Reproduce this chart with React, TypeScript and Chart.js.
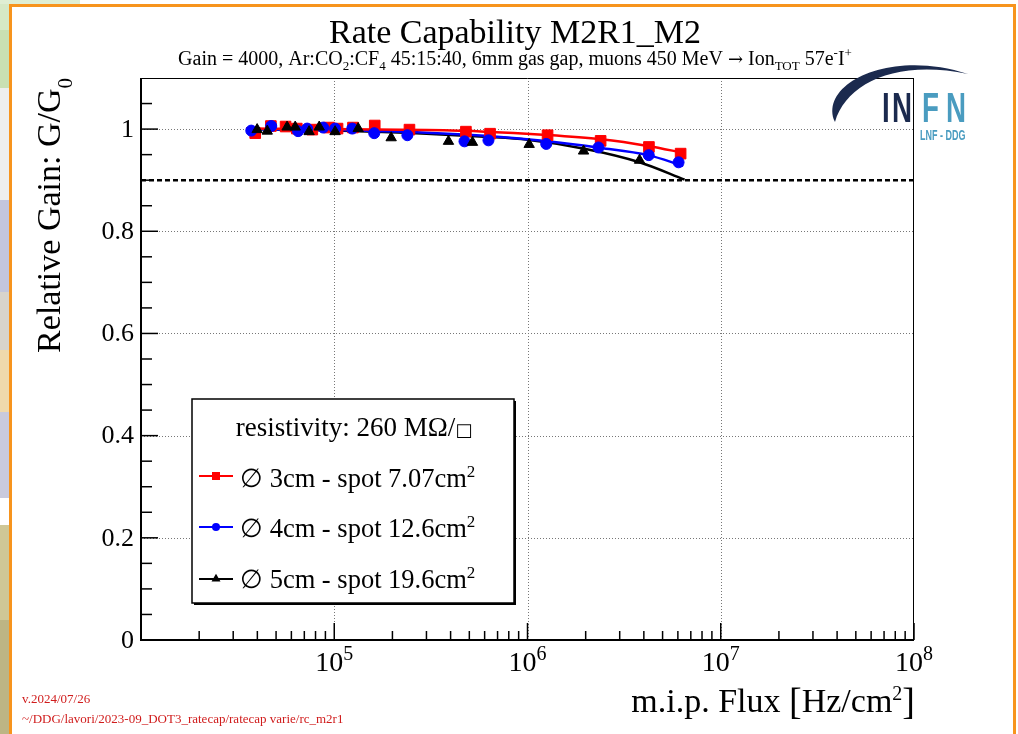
import React, { useEffect, useRef } from 'react';
import { Chart, registerables } from 'chart.js';

Chart.register(...registerables);

const WIDTH = 1018;
const HEIGHT = 734;

// ---------- data ----------
const chartTitle = 'Rate Capability M2R1_M2';
const xRange = [1e4, 1e8];
const yRange = [0, 1.1];
const yMajorTicks = [0, 0.2, 0.4, 0.6, 0.8, 1];
const yTickLabels = ['0', '0.2', '0.4', '0.6', '0.8', '1'];
const yMinorTicks = [0.05, 0.1, 0.15, 0.25, 0.3, 0.35, 0.45, 0.5, 0.55, 0.65, 0.7, 0.75, 0.85, 0.9, 0.95, 1.05];
const xDecades = [1e4, 1e5, 1e6, 1e7, 1e8];
const xLabelExponents = ['', '5', '6', '7', '8'];
const xMinorMultipliers = [2, 3, 4, 5, 6, 7, 8, 9];
const xGridValues = [1e5, 1e6, 1e7];
const yGridValues = [0.2, 0.4, 0.6, 0.8, 1];

const redFlux = [3.9e4, 4.7e4, 5.6e4, 6.4e4, 7.7e4, 9.4e4, 1.04e5, 1.25e5, 1.62e5, 2.45e5, 4.8e5, 6.4e5, 1.27e6, 2.39e6, 4.25e6, 6.2e6];
const redGain = [0.992, 1.006, 1.005, 1.001, 0.999, 1.003, 1.001, 1.003, 1.007, 0.999, 0.995, 0.991, 0.988, 0.977, 0.965, 0.952];

const blueFlux = [3.72e4, 4.72e4, 6.5e4, 7.24e4, 8.77e4, 1.01e5, 1.24e5, 1.61e5, 2.39e5, 4.72e5, 6.28e5, 1.25e6, 2.33e6, 4.24e6, 6.05e6];
const blueGain = [0.997, 1.006, 0.996, 1.001, 1.003, 1.001, 1.001, 0.992, 0.988, 0.976, 0.978, 0.971, 0.964, 0.949, 0.935];

const blackFlux = [3.99e4, 4.5e4, 5.7e4, 6.28e4, 7.41e4, 8.36e4, 1.01e5, 1.33e5, 1.97e5, 3.9e5, 5.19e5, 1.02e6, 1.95e6, 3.8e6];
const blackGain = [0.999, 0.996, 1.004, 1.004, 0.995, 1.004, 0.995, 1.001, 0.983, 0.976, 0.974, 0.970, 0.957, 0.939];

const redFitFlux = [3.5e4, 1e5, 3e5, 6e5, 1.2e6, 2.4e6, 4.2e6, 6.5e6];
const redFitGain = [1.001, 1.0, 0.998, 0.995, 0.989, 0.980, 0.967, 0.953];
const blueFitFlux = [3.5e4, 1e5, 3e5, 6e5, 1.2e6, 2.4e6, 4.2e6, 6.4e6];
const blueFitGain = [1.0, 0.998, 0.993, 0.987, 0.977, 0.963, 0.949, 0.928];
const blackFitFlux = [3.5e4, 1e5, 3e5, 6e5, 1.0e6, 2.0e6, 3.8e6, 6.5e6];
const blackFitGain = [1.0, 0.997, 0.991, 0.985, 0.979, 0.961, 0.935, 0.901];

const thresholdFlux = [1e4, 1e8];
const thresholdGain = [0.9, 0.9];

const legendHeader = 'resistivity: 260 MΩ/';
const legendLabels = ['3cm - spot 7.07cm', '4cm - spot 12.6cm', '5cm - spot 19.6cm'];
const legendColors = ['#ff0000', '#0000ff', '#000000'];
const legendMarkers = ['rect', 'circle', 'triangle'];
const footerLines = ['v.2024/07/26', '~/DDG/lavori/2023-09_DOT3_ratecap/ratecap varie/rc_m2r1'];

// ---------- drawing helpers ----------
const SERIF = '"Liberation Serif", "DejaVu Serif", serif';
type Part = { t: string; size: number; dy?: number; fam?: string };

function fnt(size: number, fam?: string) {
  return `${size}px ${fam || SERIF}`;
}
function richWidth(ctx: CanvasRenderingContext2D, parts: Part[]) {
  let w = 0;
  for (const p of parts) {
    ctx.font = fnt(p.size, p.fam);
    w += ctx.measureText(p.t).width;
  }
  return w;
}
function drawRich(ctx: CanvasRenderingContext2D, parts: Part[], x: number, y: number, align: 'left' | 'center' | 'right') {
  const w = richWidth(ctx, parts);
  let cx = align === 'left' ? x : align === 'center' ? x - w / 2 : x - w;
  ctx.textAlign = 'left';
  ctx.textBaseline = 'alphabetic';
  for (const p of parts) {
    ctx.font = fnt(p.size, p.fam);
    ctx.fillText(p.t, cx, y + (p.dy || 0));
    cx += ctx.measureText(p.t).width;
  }
}
function line(ctx: CanvasRenderingContext2D, x1: number, y1: number, x2: number, y2: number) {
  ctx.beginPath();
  ctx.moveTo(x1, y1);
  ctx.lineTo(x2, y2);
  ctx.stroke();
}
function marker(ctx: CanvasRenderingContext2D, style: string, x: number, y: number, s: number, color: string) {
  ctx.fillStyle = color;
  ctx.beginPath();
  if (style === 'rect') {
    ctx.rect(x - s / 2, y - s / 2, s, s);
  } else if (style === 'circle') {
    ctx.arc(x, y, s / 2, 0, Math.PI * 2);
  } else {
    ctx.moveTo(x, y - s * 0.577);
    ctx.lineTo(x + s / 2, y + s * 0.289);
    ctx.lineTo(x - s / 2, y + s * 0.289);
    ctx.closePath();
  }
  ctx.fill();
}

const stripBands: [number, number, string][] = [
  [0, 30, '#d6e9c6'],
  [30, 88, '#c9e0b3'],
  [88, 200, '#eeeeee'],
  [200, 292, '#c3c6dc'],
  [292, 350, '#d8d4cc'],
  [350, 412, '#efd9ac'],
  [412, 498, '#c9cadd'],
  [498, 525, '#ffffff'],
  [525, 620, '#cfc796'],
  [620, 734, '#bdb584'],
];

const rootStyle = {
  id: 'rootStyle',
  beforeDraw(chart: any) {
    const ctx: CanvasRenderingContext2D = chart.ctx;
    ctx.save();
    ctx.fillStyle = '#ffffff';
    ctx.fillRect(0, 0, WIDTH, HEIGHT);
    for (const [y0, y1, c] of stripBands) {
      ctx.fillStyle = c;
      ctx.fillRect(0, y0, 9, y1 - y0);
    }
    ctx.fillStyle = '#dfeed3';
    ctx.fillRect(0, 0, 80, 4);
    ctx.fillStyle = '#f7941d';
    ctx.fillRect(9, 4, 3, HEIGHT - 4);
    ctx.fillRect(9, 4, 1007, 3);
    ctx.fillRect(1013, 4, 3, HEIGHT - 4);
    ctx.restore();
  },
  beforeDatasetsDraw(chart: any) {
    const ctx: CanvasRenderingContext2D = chart.ctx;
    const { left, right, top, bottom } = chart.chartArea;
    const xs = chart.scales.x;
    const ys = chart.scales.y;
    ctx.save();
    ctx.strokeStyle = '#777777';
    ctx.lineWidth = 1;
    ctx.setLineDash([1, 2]);
    for (const v of xGridValues) {
      const px = Math.round(xs.getPixelForValue(v)) + 0.5;
      line(ctx, px, top, px, bottom);
    }
    for (const v of yGridValues) {
      const py = Math.round(ys.getPixelForValue(v)) + 0.5;
      line(ctx, left, py, right, py);
    }
    ctx.restore();
  },
  afterDatasetsDraw(chart: any) {
    const ctx: CanvasRenderingContext2D = chart.ctx;
    const { left, right, top, bottom } = chart.chartArea;
    const xs = chart.scales.x;
    const ys = chart.scales.y;
    ctx.save();
    ctx.setLineDash([]);
    ctx.strokeStyle = '#000';
    ctx.fillStyle = '#000';
    // frame
    ctx.lineWidth = 1;
    line(ctx, left, top + 0.5, right, top + 0.5);
    line(ctx, right - 0.5, top, right - 0.5, bottom);
    ctx.lineWidth = 2;
    line(ctx, left, top, left, bottom + 1);
    line(ctx, left - 1, bottom, right, bottom);
    // ticks
    ctx.lineWidth = 1.5;
    for (const v of yMajorTicks) {
      const py = ys.getPixelForValue(v);
      line(ctx, left, py, left + 17, py);
    }
    for (const v of yMinorTicks) {
      const py = ys.getPixelForValue(v);
      line(ctx, left, py, left + 11, py);
    }
    for (let i = 0; i < xDecades.length; i++) {
      const d = xDecades[i];
      const px = xs.getPixelForValue(d);
      line(ctx, px, bottom, px, bottom - 17);
      if (i < xDecades.length - 1) {
        for (const m of xMinorMultipliers) {
          const mx = xs.getPixelForValue(m * d);
          line(ctx, mx, bottom, mx, bottom - 9);
        }
      }
    }
    // tick labels
    ctx.font = fnt(26);
    ctx.textAlign = 'right';
    ctx.textBaseline = 'middle';
    yMajorTicks.forEach((v, i) => {
      ctx.fillText(yTickLabels[i], left - 7, ys.getPixelForValue(v) + 1);
    });
    xDecades.forEach((d, i) => {
      const e = xLabelExponents[i];
      if (!e) return;
      drawRich(ctx, [{ t: '10', size: 28 }, { t: e, size: 20, dy: -11 }], xs.getPixelForValue(d), 671, 'center');
    });
    // axis titles
    drawRich(
      ctx,
      [
        { t: 'm.i.p. Flux ', size: 34 },
        { t: '[', size: 38, dy: 2 },
        { t: 'Hz/cm', size: 34 },
        { t: '2', size: 20, dy: -12 },
        { t: ']', size: 38, dy: 2 },
      ],
      right + 1,
      712,
      'right'
    );
    ctx.save();
    ctx.translate(60, top);
    ctx.rotate(-Math.PI / 2);
    drawRich(ctx, [{ t: 'Relative Gain: G/G', size: 34 }, { t: '0', size: 21, dy: 12 }], 0, 0, 'right');
    ctx.restore();
    // titles
    drawRich(ctx, [{ t: chartTitle, size: 34 }], 515, 43, 'center');
    drawRich(
      ctx,
      [
        { t: 'Gain = 4000, Ar:CO', size: 20 },
        { t: '2', size: 13, dy: 5 },
        { t: ':CF', size: 20 },
        { t: '4', size: 13, dy: 5 },
        { t: ' 45:15:40, 6mm gas gap, muons 450 MeV ', size: 20 },
        { t: '→', size: 18, fam: '"DejaVu Serif", serif' },
        { t: ' Ion', size: 20 },
        { t: 'TOT', size: 13, dy: 5 },
        { t: ' 57e', size: 20 },
        { t: '-', size: 13, dy: -8 },
        { t: 'I', size: 20 },
        { t: '+', size: 13, dy: -8 },
      ],
      515,
      65,
      'center'
    );
    // legend
    const lx0 = 192, ly0 = 399, lx1 = 514, ly1 = 603;
    ctx.fillStyle = '#000';
    ctx.fillRect(lx0 + 2, ly0 + 2, lx1 - lx0, ly1 - ly0);
    ctx.fillStyle = '#fff';
    ctx.fillRect(lx0, ly0, lx1 - lx0, ly1 - ly0);
    ctx.strokeStyle = '#000';
    ctx.lineWidth = 1.5;
    ctx.strokeRect(lx0, ly0, lx1 - lx0, ly1 - ly0);
    ctx.fillStyle = '#000';
    drawRich(
      ctx,
      [{ t: legendHeader, size: 27 }, { t: '□', size: 18, fam: '"DejaVu Sans", sans-serif' }],
      354,
      436,
      'center'
    );
    const rowY = [476, 527, 579];
    const textBase = [487, 537, 588];
    legendLabels.forEach((lab, i) => {
      ctx.strokeStyle = legendColors[i];
      ctx.lineWidth = 2;
      line(ctx, 199, rowY[i], 233, rowY[i]);
      marker(ctx, legendMarkers[i], 216, rowY[i], legendMarkers[i] === 'triangle' ? 9 : 8, legendColors[i]);
      ctx.fillStyle = '#000';
      drawRich(
        ctx,
        [
          { t: '∅', size: 26, fam: '"DejaVu Serif", serif' },
          { t: ' ' + lab, size: 26.5 },
          { t: '2', size: 17, dy: -10 },
        ],
        240,
        textBase[i],
        'left'
      );
    });
    // footer
    ctx.fillStyle = '#d01c1c';
    ctx.font = fnt(13);
    ctx.textAlign = 'left';
    ctx.textBaseline = 'alphabetic';
    ctx.fillText(footerLines[0], 22, 703);
    ctx.fillText(footerLines[1], 22, 723);
    // INFN logo
    ctx.fillStyle = '#1b2a4e';
    ctx.beginPath();
    ctx.moveTo(835, 122);
    ctx.bezierCurveTo(818, 84, 890, 48, 968, 74);
    ctx.bezierCurveTo(895, 59, 846, 84, 835, 122);
    ctx.fill();
    const letters: [string, number, string][] = [
      ['I', 882, '#1b2a4e'],
      ['N', 892, '#1b2a4e'],
      ['F', 922, '#4a9cc0'],
      ['N', 946, '#4a9cc0'],
    ];
    for (const [ch, x, c] of letters) {
      ctx.save();
      ctx.translate(x, 122);
      ctx.scale(0.66, 1);
      ctx.fillStyle = c;
      ctx.font = 'bold 42px "Liberation Sans", "DejaVu Sans", sans-serif';
      ctx.fillText(ch, 0, 0);
      ctx.restore();
    }
    ctx.save();
    ctx.translate(920, 140);
    ctx.scale(0.6, 1);
    ctx.fillStyle = '#4a9cc0';
    ctx.font = 'bold 15px "Liberation Sans", "DejaVu Sans", sans-serif';
    ctx.fillText('LNF - DDG', 0, 0);
    ctx.restore();
    ctx.restore();
  },
};

function pts(xs: number[], ys: number[]) {
  return xs.map((x, i) => ({ x, y: ys[i] }));
}

export default function App() {
  const ref = useRef<HTMLCanvasElement>(null);
  useEffect(() => {
    document.body.style.margin = '0';
    const canvas = ref.current;
    if (!canvas) return;
    const fitLine = (data: any, color: string) => ({
      data,
      showLine: true,
      borderColor: color,
      backgroundColor: color,
      borderWidth: 2.5,
      pointRadius: 0,
      cubicInterpolationMode: 'monotone',
    });
    const pointSet = (data: any, color: string, style: string, r: number) => ({
      data,
      showLine: false,
      borderColor: color,
      backgroundColor: color,
      borderWidth: 1,
      pointStyle: style,
      pointRadius: r,
    });
    const chart = new Chart(canvas, {
      type: 'scatter',
      data: {
        datasets: [
          pointSet(pts(blackFlux, blackGain), '#000000', 'triangle', 6),
          pointSet(pts(blueFlux, blueGain), '#0000ff', 'circle', 5.5),
          pointSet(pts(redFlux, redGain), '#ff0000', 'rect', 7.5),
          fitLine(pts(redFitFlux, redFitGain), '#ff0000'),
          fitLine(pts(blueFitFlux, blueFitGain), '#0000ff'),
          fitLine(pts(blackFitFlux, blackFitGain), '#000000'),
          {
            data: pts(thresholdFlux, thresholdGain),
            showLine: true,
            borderColor: '#000000',
            borderWidth: 2.5,
            borderDash: [5, 3],
            pointRadius: 0,
          },
        ] as any,
      },
      options: {
        animation: false,
        responsive: false,
        devicePixelRatio: 1,
        events: [],
        layout: { padding: { left: 141, top: 78, right: WIDTH - 914, bottom: HEIGHT - 640 } },
        plugins: { legend: { display: false }, tooltip: { enabled: false }, title: { display: false } },
        scales: {
          x: { type: 'logarithmic', min: xRange[0], max: xRange[1], display: false },
          y: { type: 'linear', min: yRange[0], max: yRange[1], display: false },
        },
      } as any,
      plugins: [rootStyle as any],
    });
    return () => chart.destroy();
  }, []);
  return (
    <div style={{ width: WIDTH, height: HEIGHT, overflow: 'hidden' }}>
      <canvas ref={ref} width={WIDTH} height={HEIGHT} style={{ display: 'block', width: WIDTH, height: HEIGHT }} />
    </div>
  );
}
